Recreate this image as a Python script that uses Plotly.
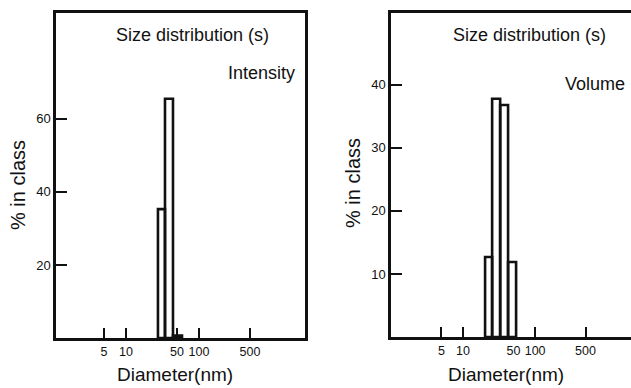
import plotly.graph_objects as go

# Size-distribution histograms (log-spaced diameter classes)
intensity_edges = [27.4, 34.2, 44.0, 58.5]      # class boundaries, nm
intensity_pct = [35.3, 65.5, 0.7]               # % in class

volume_edges = [20.2, 25.3, 32.7, 42.1, 54.4]   # class boundaries, nm
volume_pct = [12.7, 37.8, 36.8, 11.9]           # % in class

x_tickvals = [5, 10, 50, 100, 500]
x_ticktext = ["5", "10", "50", "100", "500"]
y_ticks_intensity = [20, 40, 60]
y_ticks_volume = [10, 20, 30, 40]

W, H = 631, 388
FONT = "Liberation Sans, Arial, Helvetica, sans-serif"
INK = "#111"


def px(x):
    return x / W


def py(y):
    return 1 - y / H


def bar_outline(edges, heights):
    xs, ys = [], []
    for i, h in enumerate(heights):
        x0, x1 = edges[i], edges[i + 1]
        xs += [x0, x0, x1, x1, x0, None]
        ys += [0, h, h, 0, 0, None]
    return xs, ys


fig = go.Figure()

xi, yi = bar_outline(intensity_edges, intensity_pct)
fig.add_trace(go.Scatter(x=xi, y=yi, mode="lines", fill="toself",
                         fillcolor="white", line=dict(color=INK, width=2.6),
                         xaxis="x", yaxis="y", hoverinfo="skip"))

xv, yv = bar_outline(volume_edges, volume_pct)
fig.add_trace(go.Scatter(x=xv, y=yv, mode="lines", fill="toself",
                         fillcolor="white", line=dict(color=INK, width=2.6),
                         xaxis="x2", yaxis="y2", hoverinfo="skip"))

common_x = dict(type="log", tickvals=x_tickvals, ticktext=x_ticktext,
                ticks="inside", ticklen=10, tickwidth=1.8, tickcolor=INK,
                showline=True, linewidth=2.5, linecolor=INK, mirror=True,
                showgrid=False, zeroline=False, layer="below traces",
                tickfont=dict(family=FONT, size=12.5, color=INK))
common_y = dict(ticks="inside", ticklen=11, tickwidth=1.8, tickcolor=INK,
                showline=True, linewidth=2.5, linecolor=INK,
                showgrid=False, zeroline=False, layer="below traces",
                tickfont=dict(family=FONT, size=13, color=INK))

fig.update_layout(
    width=W, height=H,
    margin=dict(l=0, r=0, t=0, b=0),
    paper_bgcolor="white", plot_bgcolor="white",
    showlegend=False,
    xaxis=dict(domain=[px(56), px(305)], range=[0.041, 3.452], anchor="y", **common_x),
    yaxis=dict(domain=[py(338), py(13)], range=[0, 89], anchor="x",
               tickvals=y_ticks_intensity, mirror=True, **common_y),
    xaxis2=dict(domain=[px(391), 1.0], range=[0.0, 3.33], anchor="y2", **common_x),
    yaxis2=dict(domain=[py(337), py(13)], range=[0, 51.4], anchor="x2",
                tickvals=y_ticks_volume, **common_y),
)

texts = [
    ("Size distribution (s)", 192, 35, 18, 0),
    ("Intensity", 261, 73, 18, 0),
    ("Size distribution (s)", 529, 35, 18, 0),
    ("Volume", 595, 84, 18, 0),
    ("Diameter(nm)", 175, 374, 19, 0),
    ("Diameter(nm)", 506, 374, 19, 0),
    ("% in class", 18, 185, 20, -90),
    ("% in class", 353, 183, 20, -90),
]
for t, x, y, s, ang in texts:
    fig.add_annotation(text=t, x=px(x), y=py(y), xref="paper", yref="paper",
                       xanchor="center", yanchor="middle", showarrow=False,
                       textangle=ang, font=dict(family=FONT, size=s, color=INK))

fig.write_html("out.html")
